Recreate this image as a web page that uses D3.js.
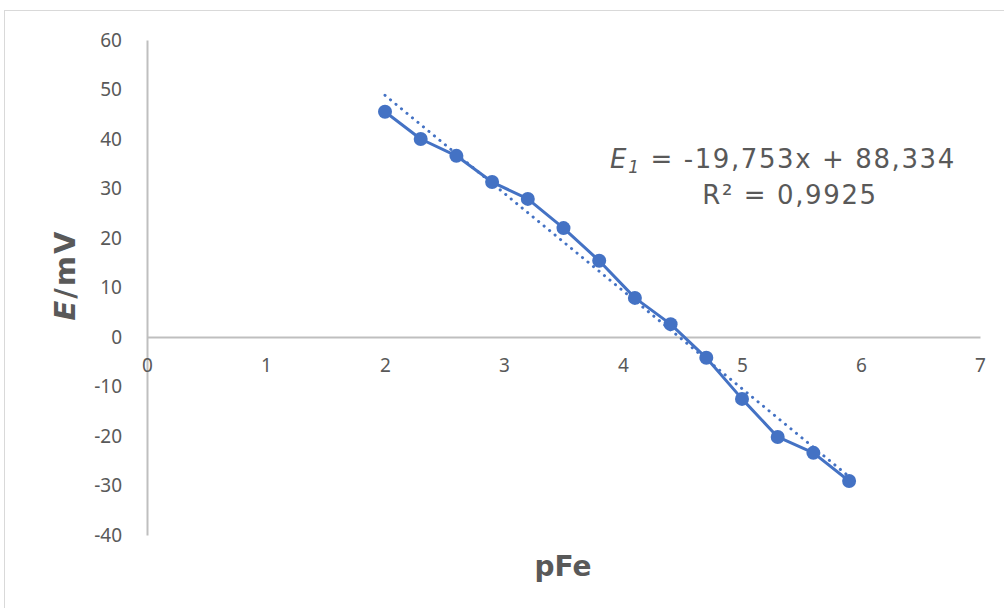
<!DOCTYPE html>
<html><head><meta charset="utf-8">
<script src="https://cdn.jsdelivr.net/npm/d3@7"></script>
<style>
html,body{margin:0;padding:0;background:#fff;}
svg{display:block;}
</style>
</head><body>
<svg id="c" width="1004" height="608"></svg>
<script>
const pFe = [2.0, 2.3, 2.6, 2.9, 3.2, 3.5, 3.8, 4.1, 4.4, 4.7, 5.0, 5.3, 5.6, 5.9];
const E = [45.5, 40.0, 36.6, 31.3, 27.9, 22.0, 15.4, 7.9, 2.6, -4.2, -12.5, -20.2, -23.4, -29.1];
const xTicks = [0, 1, 2, 3, 4, 5, 6, 7];
const yTicks = [60, 50, 40, 30, 20, 10, 0, -10, -20, -30, -40];
const slope = -19.753, intercept = 88.334;
const eqText = "= -19,753x + 88,334";
const r2Text = "R² = 0,9925";

const svg = d3.select("#c");
const x = d3.scaleLinear().domain([0, 7]).range([147, 980]);
const y = d3.scaleLinear().domain([-40, 60]).range([535, 40]);
const grey = "#bfbfbf", txt = "#595959", blue = "#4472c4";
const tickFont = "'Liberation Sans Narrow','Noto Sans',sans-serif";
const fmt = d => String(d);

svg.append("rect").attr("x", 4.5).attr("y", 10.5).attr("width", 1010).attr("height", 620)
  .attr("fill", "#fff").attr("stroke", "#d9d9d9");

// y axis
const ya = svg.append("g").attr("transform", `translate(${x(0)},0)`)
  .call(d3.axisLeft(y).tickValues(yTicks).tickFormat(fmt).tickSize(0).tickPadding(25));
ya.select(".domain").attr("stroke", grey).attr("stroke-width", 2);
ya.selectAll("text").attr("fill", txt).style("font-family", tickFont).style("font-size", "19px");

// x axis at y=0
const xa = svg.append("g").attr("transform", `translate(0,${y(0)})`)
  .call(d3.axisBottom(x).tickValues(xTicks).tickFormat(fmt).tickSize(0).tickPadding(22));
xa.select(".domain").attr("stroke", grey).attr("stroke-width", 2);
xa.selectAll("text").attr("fill", txt).style("font-family", tickFont).style("font-size", "19px");

// trendline
const tl = [pFe[0], pFe[pFe.length - 1]];
svg.append("line")
  .attr("x1", x(tl[0])).attr("y1", y(slope * tl[0] + intercept))
  .attr("x2", x(tl[1])).attr("y2", y(slope * tl[1] + intercept))
  .attr("stroke", blue).attr("stroke-width", 3).attr("stroke-dasharray", "0.1,7")
  .attr("stroke-linecap", "round");

// series line
const line = d3.line().x((d, i) => x(pFe[i])).y(d => y(d));
svg.append("path").datum(E).attr("d", line).attr("fill", "none")
  .attr("stroke", blue).attr("stroke-width", 3).attr("stroke-linejoin", "round");
svg.selectAll("circle.pt").data(E).join("circle").attr("class", "pt")
  .attr("cx", (d, i) => x(pFe[i])).attr("cy", d => y(d)).attr("r", 7).attr("fill", blue);

// equation
const eqFont = "'DejaVu Sans',Verdana,sans-serif";
const t1 = svg.append("text").attr("x", 783).attr("y", 168).attr("text-anchor", "middle")
  .attr("fill", txt).style("font-family", eqFont).style("font-size", "26px")
  .style("letter-spacing", "1.6px");
t1.append("tspan").attr("font-style", "italic").text("E");
t1.append("tspan").attr("font-style", "italic").attr("font-size", "17px").attr("dy", 5).text("1");
t1.append("tspan").attr("dy", -5).text(" " + eqText);
svg.append("text").attr("x", 790).attr("y", 204).attr("text-anchor", "middle")
  .attr("fill", txt).style("font-family", eqFont).style("font-size", "26px")
  .style("letter-spacing", "1.6px").text(r2Text);

// axis titles
const titleFont = "'DejaVu Sans','Verdana',sans-serif";
svg.append("text").attr("x", 563).attr("y", 576).attr("text-anchor", "middle")
  .attr("fill", txt).style("font-family", titleFont).style("font-weight", "bold")
  .style("font-size", "28px").text("pFe");
const yt = svg.append("text").attr("transform", "translate(75,275) rotate(-90)")
  .attr("text-anchor", "middle").attr("fill", txt).style("font-family", titleFont)
  .style("font-weight", "bold").style("font-size", "29px").style("letter-spacing", "2px");
yt.append("tspan").attr("font-style", "italic").text("E");
yt.append("tspan").text("/mV");
</script>
</body></html>
